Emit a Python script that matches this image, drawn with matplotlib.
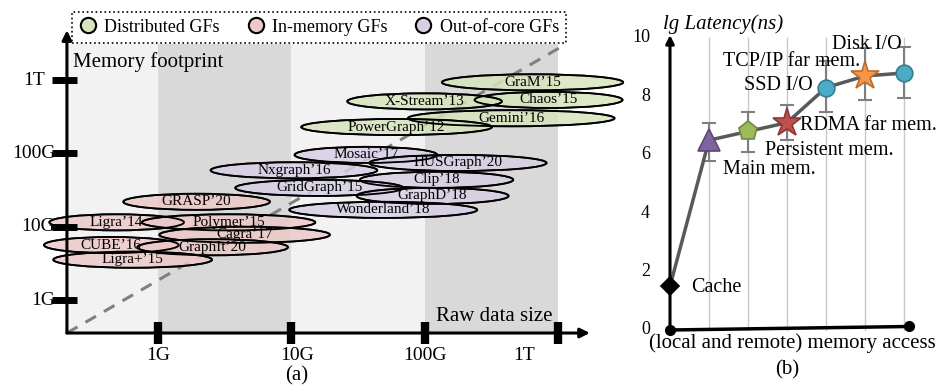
import matplotlib
matplotlib.use("Agg")
import matplotlib.pyplot as plt
from matplotlib.patches import Ellipse
from matplotlib.lines import Line2D

plt.rcParams["font.family"] = ["Liberation Serif", "DejaVu Serif"]

W, H = 941, 391

# ---- (a) graph frameworks: log10(bytes) of raw data size vs memory footprint
GREEN, PINK, PURPLE = "#d7e4bd", "#ecc9c8", "#d6cfe4"

distributed_names = ["GraM\u201915", "Chaos\u201915", "X-Stream\u201913", "Gemini\u201916", "PowerGraph\u201912"]
distributed_x = [11.81, 11.93, 11.00, 11.65, 10.79]
distributed_y = [11.97, 11.73, 11.71, 11.48, 11.36]
distributed_w = [1.36, 1.11, 1.16, 1.55, 1.43]

outofcore_names = ["Mosaic\u201917", "HUSGraph\u201920", "Nxgraph\u201916", "Clip\u201918",
                   "GridGraph\u201915", "GraphD\u201918", "Wonderland\u201918"]
outofcore_x = [10.56, 11.25, 10.02, 11.09, 10.21, 11.06, 10.69]
outofcore_y = [10.98, 10.87, 10.77, 10.64, 10.53, 10.42, 10.23]
outofcore_w = [1.07, 1.33, 1.25, 1.15, 1.26, 1.14, 1.41]

inmemory_names = ["GRASP\u201920", "Ligra\u201914", "Polymer\u201915", "Cagra\u201917",
                  "CUBE\u201916", "GraphIt\u201920", "Ligra+\u201915"]
inmemory_x = [9.29, 8.69, 9.53, 9.65, 8.65, 9.41, 8.81]
inmemory_y = [10.34, 10.06, 10.06, 9.89, 9.75, 9.72, 9.55]
inmemory_w = [1.10, 1.01, 1.30, 1.28, 1.01, 1.13, 1.19]

size_ticks = [9, 10, 11, 12]
size_labels = ["1G", "10G", "100G", "1T"]
size_label_x = [9.0, 10.04, 11.0, 11.75]
size_label_right = [8.23, 8.23, 8.23, 8.15]
ORIGIN_X, ORIGIN_Y = 8.317, 8.55

# ---- (b) latency of (local and remote) memory access, lg(ns)
access_pos = [0, 1, 2, 3, 4, 5, 6]
latency = [1.5, 6.5, 6.8, 7.1, 8.3, 8.7, 8.8]
err_low = [0, 0.7, 0.7, 0.6, 0.83, 0.82, 0.86]
err_high = [0, 0.6, 0.67, 0.6, 0.9, 0.96, 0.9]
markers = ["D", "^", "p", "*", "o", "*", "o"]
marker_sizes = [9, 16, 14, 21, 12, 21, 12]
face_colors = ["black", "#8064a2", "#9bbb59", "#c0504d", "#4bacc6", "#f79646", "#4bacc6"]
edge_colors = ["black", "#5c4776", "#71893f", "#8c3836", "#357d91", "#b66d31", "#357d91"]
latency_ticks = [0, 2, 4, 6, 8, 10]

fig = plt.figure(figsize=(W / 100, H / 100), dpi=100)

ax = fig.add_axes([0, 0, 600 / W, 1])
ax.set_xlim(7.815, 12.316)
ax.set_ylim(7.759, 13.093)
ax.axis("off")

# alternating shaded decades
band_edges = [ORIGIN_X, 9, 10, 11, 12]
for i in range(4):
    ax.fill_between([band_edges[i], band_edges[i + 1]], ORIGIN_Y, 12.49,
                    color="#f2f2f2" if i % 2 == 0 else "#d9d9d9", lw=0, zorder=0)

ax.plot([ORIGIN_X, 12.03], [ORIGIN_Y, 12.46], ls=(0, (4, 3)), color="#808080", lw=2.2, zorder=1)

groups = [(inmemory_names, inmemory_x, inmemory_y, inmemory_w, PINK),
          (outofcore_names, outofcore_x, outofcore_y, outofcore_w, PURPLE),
          (distributed_names, distributed_x, distributed_y, distributed_w, GREEN)]
for names, xs, ys, ws, color in groups:
    for name, x, y, w in zip(names, xs, ys, ws):
        ax.add_patch(Ellipse((x, y), w, 0.22, fc=color, ec="black", lw=1.3, alpha=0.85,
                             zorder=2, clip_on=False))
        ax.add_patch(Ellipse((x, y), w, 0.22, fc="none", ec="black", lw=1.3, zorder=3, clip_on=False))
        ax.text(x, y, name, ha="center", va="center", fontsize=11, zorder=4)

arrow = dict(arrowstyle="-|>", color="black", lw=2.2, mutation_scale=14, shrinkA=0, shrinkB=0)
ax.annotate("", xy=(ORIGIN_X, 12.68), xytext=(ORIGIN_X, ORIGIN_Y), arrowprops=arrow, zorder=5)
ax.annotate("", xy=(12.24, ORIGIN_Y), xytext=(ORIGIN_X, ORIGIN_Y), arrowprops=arrow, zorder=5)

ax.plot(size_ticks, [ORIGIN_Y] * 4, ls="none", marker="|", ms=16, mew=6, color="black", zorder=6)
ax.plot([ORIGIN_X - 0.02] * 4, size_ticks, ls="none", marker="_", ms=18, mew=5, color="black", zorder=6)

for lx, lab in zip(size_label_x, size_labels):
    ax.text(lx, 8.25, lab, ha="center", va="center", fontsize=14)
for rx, ty, lab in zip(size_label_right, size_ticks, size_labels):
    ax.text(rx, ty, lab, ha="right", va="center", fontsize=14)

ax.text(8.36, 12.25, "Memory footprint", ha="left", va="center", fontsize=15)
ax.text(11.96, 8.78, "Raw data size", ha="right", va="center", fontsize=15)
ax.text(10.04, 7.96, "(a)", ha="center", va="center", fontsize=15)

handles = [Line2D([], [], ls="none", marker="o", ms=11, mfc=c, mec="black", mew=1.5)
           for c in (GREEN, PINK, PURPLE)]
leg = fig.legend(handles, ["Distributed GFs", "In-memory GFs", "Out-of-core GFs"],
                 loc="lower left", bbox_to_anchor=(72 / W, 1 - 43 / H, 494 / W, 33 / H),
                 mode="expand", ncol=3, handlelength=1.0, handletextpad=0.4, borderaxespad=0,
                 fontsize=13, fancybox=False, edgecolor="black", framealpha=1)
leg.get_frame().set_linestyle(":")
leg.get_frame().set_linewidth(1.2)

# ---- panel (b)
bx = fig.add_axes([600 / W, 0, 341 / W, 1])
bx.set_xlim(-1.795, 6.949)
bx.set_ylim(-2.089, 11.301)
bx.axis("off")

for p in access_pos[1:]:
    bx.plot([p, p], [0, 10], color="#c5c8d2", lw=1, zorder=0)

bx.errorbar(access_pos[1:], latency[1:], yerr=[err_low[1:], err_high[1:]], ls="none",
            ecolor="#7f7f7f", elinewidth=1.5, capsize=5, capthick=1.5, zorder=1)
bx.plot(access_pos, latency, color="#595959", lw=2.5, zorder=2)
for p, v, m, s, fc, ec in zip(access_pos, latency, markers, marker_sizes, face_colors, edge_colors):
    bx.plot(p, v, marker=m, ms=s, mfc=fc, mec=ec, mew=1.2, zorder=3)

bx.plot([0, 6.13], [0, 0.12], color="black", lw=2.5, zorder=4)
bx.plot([0, 6.13], [0, 0.12], ls="none", marker="o", ms=7, color="black", zorder=5)
bx.annotate("", xy=(0, 10.1), xytext=(0, 0), arrowprops=dict(arrowstyle="-|>", color="black",
            lw=2.2, mutation_scale=12, shrinkA=0, shrinkB=0), zorder=4)

for t in latency_ticks:
    bx.text(-0.51, t, str(t), ha="right", va="center", fontsize=13)

bx.text(1.36, 10.48, "lg Latency(ns)", ha="center", va="center", fontsize=15, style="italic")
point_labels = [("Disk I/O", 5.05, 9.79, "center"), ("TCP/IP far mem.", 3.13, 9.18, "center"),
                ("SSD I/O", 2.79, 8.39, "center"), ("RDMA far mem.", 6.84, 6.99, "right"),
                ("Persistent mem.", 4.08, 6.16, "center"), ("Main mem.", 2.54, 5.51, "center")]
for lab, x, y, ha in point_labels:
    bx.text(x, y, lab, ha=ha, va="center", fontsize=14.5)
bx.text(0.54, 1.44, "Cache", ha="left", va="center", fontsize=14.5)
bx.text(3.13, -0.45, "(local and remote) memory access", ha="center", va="center", fontsize=15)
bx.text(3.0, -1.37, "(b)", ha="center", va="center", fontsize=15)

fig.savefig("out.png", dpi=100)
